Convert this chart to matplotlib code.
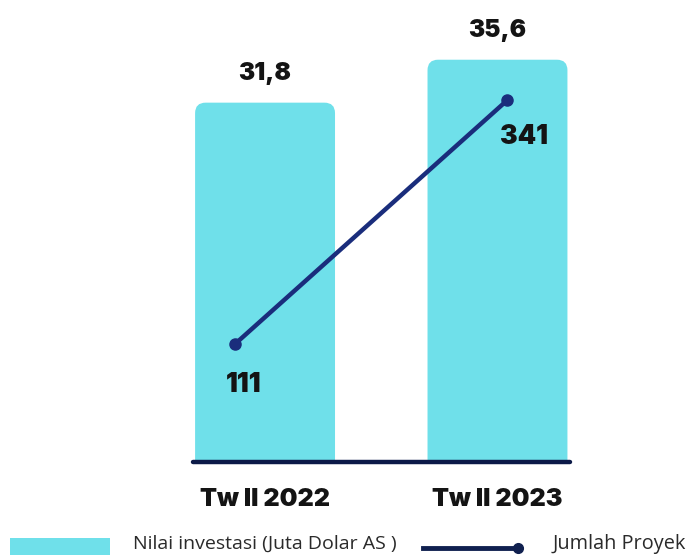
import matplotlib.pyplot as plt
from matplotlib.patches import FancyBboxPatch
from matplotlib.lines import Line2D
from matplotlib.patches import Rectangle

# data
periods = ["Tw II 2022", "Tw II 2023"]
investasi = [31.8, 35.6]          # Nilai investasi (Juta Dolar AS)
investasi_labels = ["31,8", "35,6"]
proyek = [111, 341]               # Jumlah Proyek

BAR_COLOR = "#6fe0ea"
LINE_COLOR = "#1a2d7c"
AXIS_COLOR = "#0c1a48"
TXT = "#141414"
BOLD = dict(fontweight="black", family="Inter", color=TXT)

fig = plt.figure(figsize=(6.92, 5.55), dpi=100)
W, H = 692, 555

# axes placed in pixel terms: baseline at y=462, spans x 193..570
ax = fig.add_axes([193 / W, (H - 462) / H, (570 - 193) / W, 452 / H])
ax.set_xlim(-0.31, 1.312)
ax.set_ylim(0, 40)

bar_w = 0.602
xs = list(range(len(periods)))
for x, v in zip(xs, investasi):
    p = FancyBboxPatch((x - bar_w / 2, -2), bar_w, v + 2,
                       boxstyle="round,pad=0,rounding_size=0.045",
                       mutation_aspect=20.6, fc=BAR_COLOR, ec="none",
                       zorder=1, clip_on=True)
    ax.add_patch(p)

for x, v, lab in zip(xs, investasi, investasi_labels):
    ax.text(x, v + 1.55, lab, ha="center", va="bottom", fontsize=17.5, **BOLD)

for s in ["top", "left", "right"]:
    ax.spines[s].set_visible(False)
ax.spines["bottom"].set_linewidth(3.2)
ax.spines["bottom"].set_color(AXIS_COLOR)
ax.spines["bottom"].set_capstyle("round")
ax.spines["bottom"].set_zorder(5)
ax.set_yticks([])
ax.set_xticks(xs)
ax.set_xticklabels(periods, fontsize=18, **BOLD)
ax.tick_params(axis="x", length=0, pad=19)

# secondary axis for number of projects
ax2 = ax.twinx()
ax2.set_ylim(0, 425.8)
ax2.axis("off")
line_x = [xs[0] - 0.13, xs[1] + 0.043]
ax2.plot(line_x, proyek, color=LINE_COLOR, lw=3.2, marker="o", ms=8,
         solid_capstyle="round", zorder=3)
ax2.text(line_x[0] + 0.04, proyek[0] - 26, str(proyek[0]), ha="center", va="top",
         fontsize=19, **BOLD)
ax2.text(line_x[1] + 0.07, proyek[1] - 23, str(proyek[1]), ha="center", va="top",
         fontsize=19, **BOLD)

# legend along the bottom edge
fig.patches.append(Rectangle((10 / W, 0), 100 / W, 17 / H, transform=fig.transFigure,
                             fc=BAR_COLOR, ec="none"))
fig.text(133 / W, 6 / H, "Nilai investasi (Juta Dolar AS )", fontsize=14,
         family="Open Sans", color="#2a2a2a", va="baseline")
fig.lines.append(Line2D([423 / W, 514 / W], [7 / H, 7 / H], transform=fig.transFigure,
                        color="#10204f", lw=3.5))
fig.lines.append(Line2D([518 / W], [7 / H], transform=fig.transFigure,
                        color="#10204f", marker="o", ms=7))
fig.text(553 / W, 6 / H, "Jumlah Proyek", fontsize=14.3,
         family="Open Sans", color="#2a2a2a", va="baseline")

fig.savefig("out.png", dpi=100, facecolor="white")
